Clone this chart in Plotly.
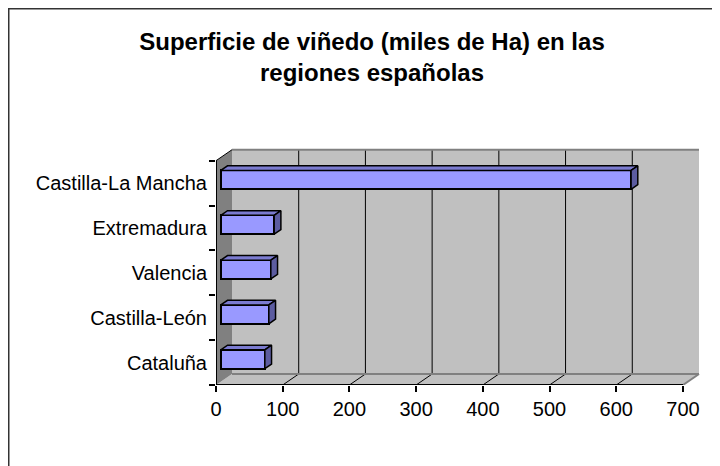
import plotly.graph_objects as go

# ---------------- data ----------------
categories = ["Castilla-La Mancha", "Extremadura", "Valencia", "Castilla-León", "Cataluña"]
values = [615, 80, 75, 72, 66]
x_ticks = [0, 100, 200, 300, 400, 500, 600, 700]
title_text = "Superficie de viñedo (miles de Ha) en las<br>regiones españolas"

# ---------------- layout constants ----------------
W, H = 720, 466
L, R, T, B = 208, 24, 138, 89
pw, ph = W - L - R, H - T - B
X_MAX = 731.5
Y_MIN, Y_MAX = -0.5, 4.828
ux = X_MAX / pw                 # data units per px (x)
uy = (Y_MAX - Y_MIN) / ph       # data units per px (y)
wx, wy = 16 * ux, 11 * uy       # 3-D depth offset of the walls
d0, d1 = 0.3, 0.72              # bar depth (front / back) as fraction of wall depth
bh = 0.21                       # half bar thickness (category units)

n = len(categories)
ypos = [n - 1 - i for i in range(n)]
xa = x_ticks[-1]
y_lo, y_hi = -0.5, n - 0.5

FONT = "Liberation Sans, Arial, sans-serif"

def path(pts):
    return "M " + " L ".join(f"{x},{y}" for x, y in pts) + " Z"

def px2paper_x(px):
    return (px - L) / pw

def px2paper_y(py):
    return (H - B - py) / ph

shapes = []
# back wall
shapes.append(dict(type="path", xref="x", yref="y", layer="below",
                   path=path([(wx, y_lo + wy), (xa + wx, y_lo + wy), (xa + wx, y_hi + wy), (wx, y_hi + wy)]),
                   fillcolor="#C0C0C0", line=dict(width=0)))
# floor
shapes.append(dict(type="path", xref="x", yref="y", layer="below",
                   path=path([(0, y_lo), (xa, y_lo), (xa + wx, y_lo + wy), (wx, y_lo + wy)]),
                   fillcolor="#C0C0C0", line=dict(width=0)))
# left side wall
shapes.append(dict(type="path", xref="x", yref="y", layer="below",
                   path=path([(0, y_lo), (0, y_hi), (wx, y_hi + wy), (wx, y_lo + wy)]),
                   fillcolor="#808080", line=dict(width=0)))
# grid lines (wall + floor)
for v in x_ticks[1:-1]:
    shapes.append(dict(type="line", xref="x", yref="y", layer="below",
                       x0=v + wx, x1=v + wx, y0=y_lo + wy, y1=y_hi + wy,
                       line=dict(color="#000000", width=1)))
    shapes.append(dict(type="line", xref="x", yref="y", layer="below",
                       x0=v, x1=v + wx, y0=y_lo, y1=y_lo + wy,
                       line=dict(color="#000000", width=1)))
# wall edges
shapes.append(dict(type="line", xref="x", yref="y", layer="below",
                   x0=wx, x1=xa + wx, y0=y_hi + wy, y1=y_hi + wy,
                   line=dict(color="#808080", width=2)))
shapes.append(dict(type="line", xref="x", yref="y", layer="below",
                   x0=wx, x1=xa + wx, y0=y_lo + wy, y1=y_lo + wy,
                   line=dict(color="#808080", width=2)))
shapes.append(dict(type="line", xref="x", yref="y", layer="below",
                   x0=xa, x1=xa + wx, y0=y_lo, y1=y_lo + wy,
                   line=dict(color="#808080", width=2)))
shapes.append(dict(type="line", xref="x", yref="y", layer="below",
                   x0=0, x1=wx, y0=y_hi, y1=y_hi + wy,
                   line=dict(color="#000000", width=1)))
# axes lines
shapes.append(dict(type="line", xref="x", yref="y", layer="above",
                   x0=0, x1=0, y0=y_lo, y1=y_hi,
                   line=dict(color="#000000", width=2)))
shapes.append(dict(type="line", xref="x", yref="y", layer="above",
                   x0=0, x1=xa, y0=y_lo, y1=y_lo,
                   line=dict(color="#000000", width=2)))
# outer frame
shapes.append(dict(type="rect", xref="paper", yref="paper", layer="above",
                   x0=px2paper_x(0.5), x1=px2paper_x(740),
                   y0=px2paper_y(490), y1=px2paper_y(0.5),
                   line=dict(color="#333333", width=2), fillcolor="rgba(0,0,0,0)"))

fig = go.Figure()

# bar front faces
fig.add_trace(go.Bar(
    orientation="h",
    y=[p + d0 * wy for p in ypos],
    x=values,
    base=d0 * wx,
    width=2 * bh,
    marker=dict(color="#9999FF", line=dict(color="#000000", width=2)),
    hoverinfo="skip", showlegend=False,
))

# top and side faces
for v, p in zip(values, ypos):
    cf = p + d0 * wy
    cb = p + d1 * wy
    xf0, xf1 = d0 * wx, v + d0 * wx
    xb0, xb1 = d1 * wx, v + d1 * wx
    fig.add_trace(go.Scatter(
        x=[xf0, xf1, xb1, xb0, xf0], y=[cf + bh, cf + bh, cb + bh, cb + bh, cf + bh],
        mode="lines", fill="toself", fillcolor="#7B7BD0",
        line=dict(color="#000000", width=1.5), hoverinfo="skip", showlegend=False))
    fig.add_trace(go.Scatter(
        x=[xf1, xb1, xb1, xf1, xf1], y=[cf + bh, cb + bh, cb - bh, cf - bh, cf + bh],
        mode="lines", fill="toself", fillcolor="#5C5CA0",
        line=dict(color="#000000", width=1.5), hoverinfo="skip", showlegend=False))

fig.update_layout(
    width=W, height=H,
    margin=dict(l=L, r=R, t=T, b=B, autoexpand=False),
    paper_bgcolor="white", plot_bgcolor="white",
    font=dict(family=FONT, size=20, color="#000000"),
    shapes=shapes,
    title=dict(text=title_text, x=364 / W, xref="container", xanchor="center",
               y=1 - 42 / H, yref="container", yanchor="top", automargin=False,
               font=dict(family=FONT, size=24, color="#000000", weight="bold")),
    xaxis=dict(range=[0, X_MAX], tickvals=x_ticks, ticktext=[str(t) for t in x_ticks],
               ticks="outside", ticklen=6, tickwidth=2, tickcolor="#000000",
               showgrid=False, zeroline=False, showline=False, automargin=False,
               tickfont=dict(size=20)),
    yaxis=dict(range=[Y_MIN, Y_MAX], tickvals=ypos, ticktext=categories,
               ticks="", showgrid=False, zeroline=False, showline=False, automargin=False,
               ticklabelstandoff=8,
               minor=dict(tickvals=[i - 0.5 for i in range(n + 1)], ticks="outside",
                          ticklen=6, tickwidth=2, tickcolor="#000000", showgrid=False),
               tickfont=dict(size=20)),
    bargap=0,
)

fig.write_html("out.html")
